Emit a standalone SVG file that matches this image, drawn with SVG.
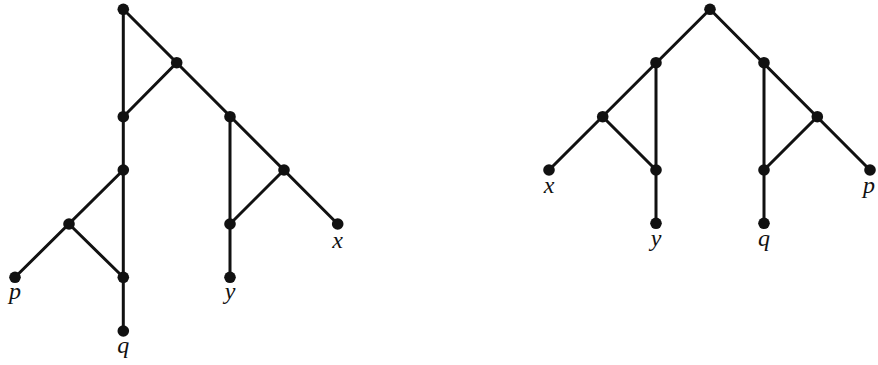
<svg xmlns="http://www.w3.org/2000/svg" width="878" height="365" viewBox="0 0 878 365">
<style>
.e{stroke:#111;stroke-width:3;fill:none;stroke-linecap:round}
.n{fill:#111}
.t{font-family:'Liberation Serif','Times New Roman','DejaVu Serif',serif;font-style:italic;font-size:24px;fill:#111;text-anchor:middle}
</style>
<rect width="878" height="365" fill="#fff"/>
<g id="connectors" class="e">
<path d="M123.3,9.3V331M123.3,9.3L176.7,62.7L123.3,116.7M176.7,62.7L337.7,224M230,116.7V277.3M284,170L230,224M123.3,170L15,277.3M69,224L123.3,277.3"/>
<path d="M710,9.3L549,170M710,9.3L870,170M656,62.7V223.3M602.7,116.7L656,170M764,62.7V223.3M817.3,116.7L764,170"/>
</g>
<g id="L1"><circle class="n" cx="123.3" cy="9.3" r="5.8"/></g>
<g id="L2"><circle class="n" cx="176.7" cy="62.7" r="5.8"/></g>
<g id="L3"><circle class="n" cx="123.3" cy="116.7" r="5.8"/></g>
<g id="L4"><circle class="n" cx="230" cy="116.7" r="5.8"/></g>
<g id="L5"><circle class="n" cx="123.3" cy="170" r="5.8"/></g>
<g id="L6"><circle class="n" cx="284" cy="170" r="5.8"/></g>
<g id="L7"><circle class="n" cx="69" cy="224" r="5.8"/></g>
<g id="L8"><circle class="n" cx="230" cy="224" r="5.8"/></g>
<g id="Lx"><circle class="n" cx="337.7" cy="224" r="5.8"/><text class="t" x="337.7" y="248">x</text></g>
<g id="L9"><circle class="n" cx="123.3" cy="277.3" r="5.8"/></g>
<g id="Lp"><circle class="n" cx="15" cy="277.3" r="5.8"/><text class="t" x="15" y="299">p</text></g>
<g id="Ly"><circle class="n" cx="230" cy="277.3" r="5.8"/><text class="t" x="230" y="299">y</text></g>
<g id="Lq"><circle class="n" cx="123.3" cy="331" r="5.8"/><text class="t" x="123.3" y="353">q</text></g>
<g id="R1"><circle class="n" cx="710" cy="9.3" r="5.8"/></g>
<g id="R2"><circle class="n" cx="656" cy="62.7" r="5.8"/></g>
<g id="R3"><circle class="n" cx="764" cy="62.7" r="5.8"/></g>
<g id="R4"><circle class="n" cx="602.7" cy="116.7" r="5.8"/></g>
<g id="R5"><circle class="n" cx="817.3" cy="116.7" r="5.8"/></g>
<g id="R6"><circle class="n" cx="656" cy="170" r="5.8"/></g>
<g id="R7"><circle class="n" cx="764" cy="170" r="5.8"/></g>
<g id="Rx"><circle class="n" cx="549" cy="170" r="5.8"/><text class="t" x="549" y="193">x</text></g>
<g id="Rp"><circle class="n" cx="870" cy="170" r="5.8"/><text class="t" x="869" y="193">p</text></g>
<g id="Ry"><circle class="n" cx="656" cy="223.3" r="5.8"/><text class="t" x="656" y="246">y</text></g>
<g id="Rq"><circle class="n" cx="764" cy="223.3" r="5.8"/><text class="t" x="764" y="246">q</text></g>
</svg>
